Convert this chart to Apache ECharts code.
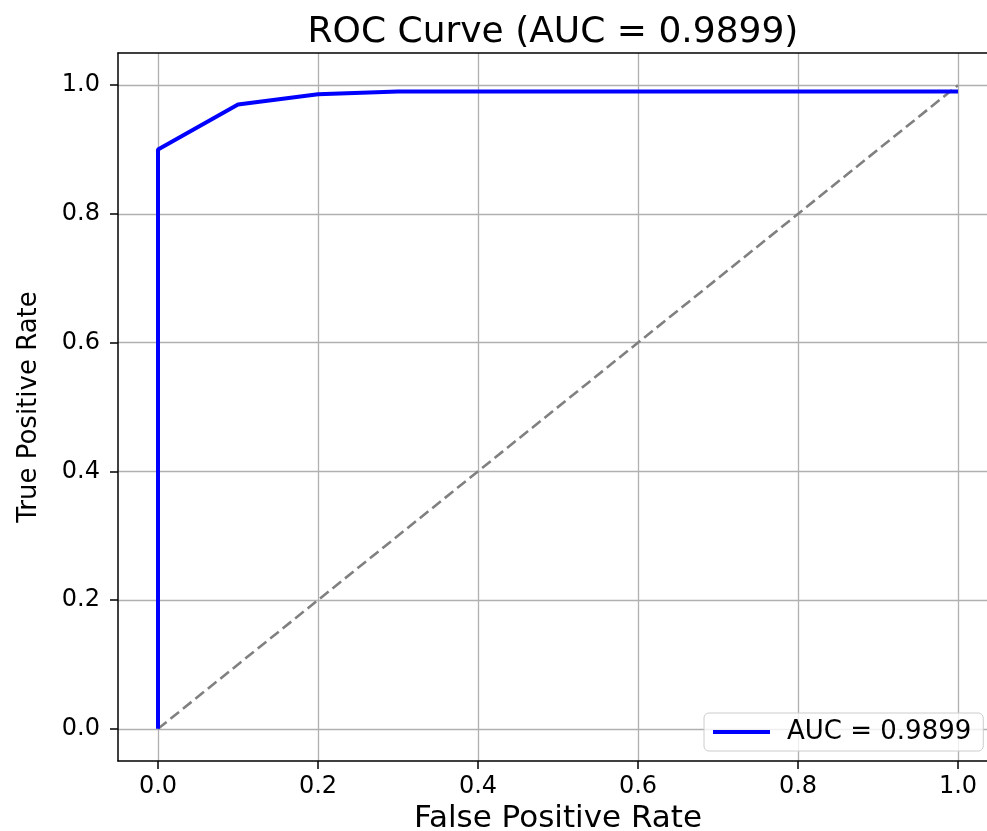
<!DOCTYPE html>
<html>
<head>
<meta charset="utf-8">
<script src="https://cdn.jsdelivr.net/npm/echarts@6/dist/echarts.min.js"></script>
<style>
html,body{margin:0;padding:0;background:#fff;overflow:hidden;}
#chart{width:987px;height:831px;}
</style>
</head>
<body>
<div id="chart"></div>
<script>
// ROC curve data
var fpr = [0, 0, 0.1, 0.2, 0.3, 1.0];
var tpr = [0, 0.9, 0.97, 0.986, 0.99, 0.99];
// chance diagonal
var diagX = [0, 1];
var diagY = [0, 1];
// tick labels
var xTicks = [0, 0.2, 0.4, 0.6, 0.8, 1.0];
var yTicks = [0, 0.2, 0.4, 0.6, 0.8, 1.0];
var titleText = 'ROC Curve (AUC = 0.9899)';
var legendText = 'AUC = 0.9899';

var font = 'DejaVu Sans';
function pairs(xs, ys){ return xs.map(function(x,i){ return [x, ys[i]]; }); }

var chart = echarts.init(document.getElementById('chart'));
chart.setOption({
  animation: false,
  backgroundColor: '#ffffff',
  title: {
    text: titleText,
    left: 548, top: 10, textAlign: 'center',
    textStyle: {fontFamily: font, fontSize: 36, fontWeight: 'normal', color: '#000'}
  },
  grid: {
    left: 118, top: 53, width: 880, height: 708,
    outerBoundsMode: 'none', containLabel: false,
    show: false
  },
  legend: {
    left: 704, top: 713,
    data: [{name: legendText, icon: 'rect'}],
    itemWidth: 57, itemHeight: 4,
    padding: [6, 12, 6, 9],
    backgroundColor: 'rgba(255,255,255,0.8)',
    borderColor: '#cccccc', borderWidth: 1, borderRadius: 5,
    textStyle: {fontFamily: font, fontSize: 26, color: '#000', padding: [0, 0, 0, 12]}
  },
  xAxis: [{
    type: 'value', min: -0.05, max: 1.05, position: 'bottom',
    name: 'False Positive Rate', nameLocation: 'middle', nameGap: 42,
    nameTextStyle: {fontFamily: font, fontSize: 31, color: '#000'},
    axisLine: {show: true, onZero: false, lineStyle: {color: '#000', width: 1.5}},
    axisTick: {show: true, length: 8, inside: false, customValues: xTicks, lineStyle: {color: '#000', width: 1.5}},
    axisLabel: {customValues: xTicks, margin: 14, fontFamily: font, fontSize: 24, color: '#000',
      formatter: function(v){ return v.toFixed(1); }},
    splitLine: {show: true, lineStyle: {color: '#b0b0b0', width: 1.3}}
  }, {
    type: 'value', min: -0.05, max: 1.05, position: 'top',
    axisLine: {show: true, onZero: false, lineStyle: {color: '#000', width: 1.5}},
    axisTick: {show: false}, axisLabel: {show: false}, splitLine: {show: false}
  }],
  yAxis: {
    type: 'value', min: -0.05, max: 1.05,
    name: 'True Positive Rate', nameLocation: 'middle', nameGap: 76, nameRotate: 90,
    nameTextStyle: {fontFamily: font, fontSize: 26, color: '#000'},
    axisLine: {show: true, onZero: false, lineStyle: {color: '#000', width: 1.5}},
    axisTick: {show: true, length: 8, inside: false, customValues: yTicks, lineStyle: {color: '#000', width: 1.5}},
    axisLabel: {customValues: yTicks, margin: 18, fontFamily: font, fontSize: 24, color: '#000',
      formatter: function(v){ return v.toFixed(1); }},
    splitLine: {show: true, lineStyle: {color: '#b0b0b0', width: 1.3}}
  },
  series: [
    {
      name: 'chance', type: 'line', data: pairs(diagX, diagY),
      symbol: 'none', silent: true, z: 2,
      lineStyle: {color: '#808080', width: 2.6, type: [11, 5]}
    },
    {
      name: legendText, type: 'line', data: pairs(fpr, tpr),
      symbol: 'none', z: 3,
      lineStyle: {color: '#0000ff', width: 4},
      itemStyle: {color: '#0000ff'}
    }
  ]
});
</script>
</body>
</html>
